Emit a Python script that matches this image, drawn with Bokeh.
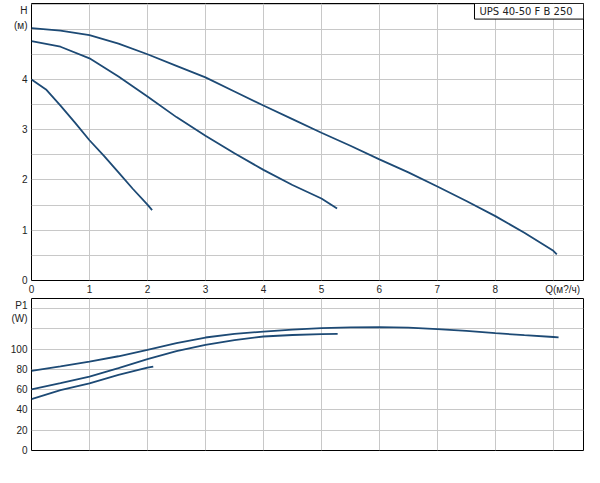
from bokeh.plotting import figure
from bokeh.layouts import column
from bokeh.models import BoxAnnotation, FixedTicker, Label, Range1d
from bokeh.embed import file_html
from bokeh.resources import INLINE

# Напор H (м) от подачи Q (м3/ч) для трёх скоростей
q_max = [0, 0.5, 1, 1.5, 2, 2.5, 3, 3.5, 4, 4.5, 5, 5.5, 6, 6.5, 7, 7.5, 8, 8.5, 9, 9.06]
h_max = [5.02, 4.97, 4.88, 4.71, 4.5, 4.27, 4.04, 3.76, 3.48, 3.21, 2.94, 2.68, 2.41, 2.15, 1.87, 1.58, 1.28, 0.95, 0.59, 0.52]
q_mid = [0, 0.5, 1, 1.5, 2, 2.5, 3, 3.5, 4, 4.5, 5, 5.27]
h_mid = [4.76, 4.65, 4.42, 4.06, 3.66, 3.25, 2.88, 2.53, 2.2, 1.9, 1.63, 1.43]
q_min = [0, 0.25, 0.5, 0.75, 1, 1.25, 1.5, 1.75, 2, 2.08]
h_min = [4.0, 3.8, 3.48, 3.14, 2.79, 2.48, 2.15, 1.82, 1.51, 1.4]

# Потребляемая мощность P1 (W)
qp_max = [0, 0.5, 1, 1.5, 2, 2.5, 3, 3.5, 4, 4.5, 5, 5.5, 6, 6.5, 7, 7.5, 8, 8.5, 9, 9.09]
p_max = [78.6, 83, 87.8, 93, 99.3, 106, 111.5, 115, 117.4, 119.3, 120.8, 121.5, 121.8, 121.2, 119.8, 118, 115.8, 113.8, 112, 111.6]
qp_mid = [0, 0.5, 1, 1.5, 2, 2.5, 3, 3.5, 4, 4.5, 5, 5.28]
p_mid = [60.4, 66.5, 72.9, 81.3, 90.1, 98, 104.3, 109, 112.5, 114, 114.9, 115]
qp_min = [0, 0.5, 1, 1.5, 2, 2.1]
p_min = [50.8, 59.5, 66.3, 74.6, 81.7, 82.8]

# Деления осей и подписи
q_grid = [0, 1, 2, 3, 4, 5, 6, 7, 8, 9]
q_ticks = [0, 1, 2, 3, 4, 5, 6, 7, 8, 9.16]
q_labels = {9.16: "Q(м?/ч)"}
h_ticks = [0, 1, 2, 3, 4, 5.08, 5.38]
h_labels = {5.08: "(м)", 5.38: "H"}
h_grid = [0.5, 1, 1.5, 2, 2.5, 3, 3.5, 4, 4.5, 5, 5.5]
p_ticks = [0, 20, 40, 60, 80, 100, 130, 143]
p_labels = {130: "(W)", 143: "P1"}
p_grid = [20, 40, 60, 80, 100, 120, 140]

title = "UPS 40-50 F B 250"
curve_color = "#1d4a75"
font = "Liberation Sans"


def style(p):
    # Общий вид: рамка, сетка, подписи
    p.outline_line_color = "black"
    p.outline_line_width = 1
    p.axis.axis_line_color = None
    p.axis.major_tick_line_color = None
    p.axis.minor_tick_line_color = None
    p.axis.major_tick_out = 0
    p.axis.major_tick_in = 0
    p.axis.minor_tick_out = 0
    p.axis.major_label_standoff = 4
    p.axis.major_label_text_font = font
    p.axis.major_label_text_font_size = "10px"
    p.axis.major_label_text_color = "#222222"
    p.grid.grid_line_color = "#c8c8c8"
    p.grid.grid_line_width = 1
    p.xgrid.ticker = FixedTicker(ticks=q_grid)


# Верхний график H(Q)
p1 = figure(width=592, height=297, x_range=Range1d(0, 9.52), y_range=Range1d(0, 5.51),
            output_backend="svg", toolbar_location=None,
            min_border_left=31, min_border_right=9, min_border_top=3, min_border_bottom=15)
style(p1)
p1.xaxis.ticker = FixedTicker(ticks=q_ticks)
p1.xaxis.major_label_overrides = q_labels
p1.xaxis.major_label_standoff = 3
p1.yaxis.ticker = FixedTicker(ticks=h_ticks)
p1.yaxis.major_label_overrides = h_labels
p1.ygrid.ticker = FixedTicker(ticks=h_grid)

for q, h in [(q_max, h_max), (q_mid, h_mid), (q_min, h_min)]:
    p1.line(q, h, color=curve_color, line_width=1.8)

# Рамка с названием насоса в правом верхнем углу
p1.add_layout(BoxAnnotation(left=7.64, right=9.52, bottom=5.2, top=5.51,
                            fill_color="white", fill_alpha=1,
                            line_color="black", line_width=1, line_alpha=1))
p1.add_layout(Label(x=8.53, y=5.355, text=title, text_font="DejaVu Sans", text_font_size="10px",
                    text_color="#222222", text_align="center", text_baseline="middle"))

# Нижний график P1(Q)
p2 = figure(width=592, height=173, x_range=Range1d(0, 9.52), y_range=Range1d(0, 150),
            output_backend="svg", toolbar_location=None,
            min_border_left=31, min_border_right=9, min_border_top=1, min_border_bottom=20)
style(p2)
p2.xaxis.visible = False
p2.yaxis.ticker = FixedTicker(ticks=p_ticks)
p2.yaxis.major_label_overrides = p_labels
p2.ygrid.ticker = FixedTicker(ticks=p_grid)

for q, pw in [(qp_max, p_max), (qp_mid, p_mid), (qp_min, p_min)]:
    p2.line(q, pw, color=curve_color, line_width=1.8)

layout = column(p1, p2, spacing=0)
open("out.html", "w").write(file_html(layout, INLINE))
